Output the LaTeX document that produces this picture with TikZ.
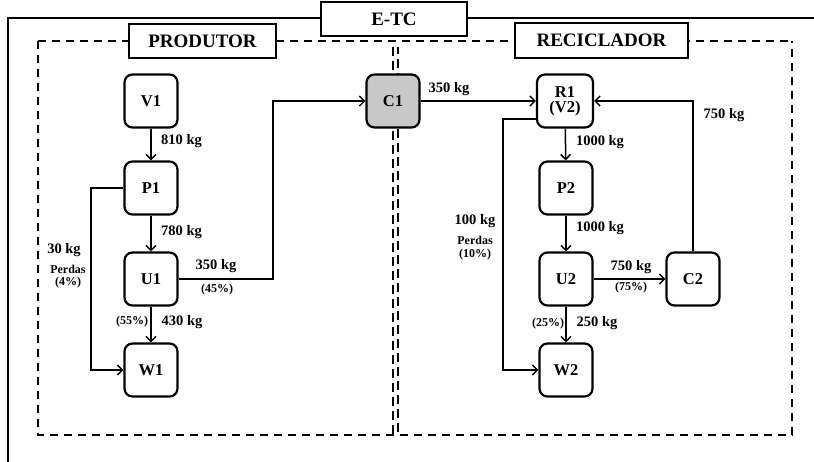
\documentclass[tikz,border=0pt]{standalone}
\usepackage{fontspec}
\setmainfont{Liberation Serif}
\usetikzlibrary{arrows.meta}
\tikzset{
  proc/.style={draw, line width=2.2pt, rounded corners=8pt, minimum width=53pt, minimum height=53pt, inner sep=0pt, font=\fontsize{16.5}{17}\selectfont\bfseries, fill=white},
  hdr/.style={draw, line width=2pt, fill=white, inner sep=0pt, font=\fontsize{19}{20}\selectfont\bfseries},
  flow/.style={line width=1.5pt, -{Straight Barb[length=5pt,width=10pt,line width=1.5pt]}},
  kg/.style={inner sep=0pt, font=\fontsize{14.5}{15}\selectfont\bfseries},
  pct/.style={inner sep=0pt, font=\fontsize{12}{13}\selectfont\bfseries},
  frame/.style={line width=2.4pt, dash pattern=on 8pt off 6pt},
  mid/.style={line width=2pt, dash pattern=on 9pt off 5pt}
}
\begin{document}
\begin{tikzpicture}[x=1pt,y=-1pt]
\useasboundingbox (0,0) rectangle (814,462);
% outer solid frame
\draw[line width=1.8pt] (814,18) -- (8,18) -- (8,462);
% dashed frames
\draw[frame] (38,41) -- (792,41);
\draw[frame] (38,41) -- (38,435) -- (792,435) -- (792,41);
\draw[mid] (393,47) -- (393,435);
\draw[mid, dash phase=2pt] (398,47) -- (398,435);
% header boxes
\node[hdr, minimum width=146pt, minimum height=34pt] (etc) at (394,19) {E-TC};
\node[hdr, minimum width=147pt, minimum height=34pt] (prod) at (202.5,41) {PRODUTOR};
\node[hdr, minimum width=173pt, minimum height=35pt] (rec) at (601.5,40.5) {RECICLADOR};
% process nodes
\node[proc] (V1) at (151,101) {V1};
\node[proc] (P1) at (151,188) {P1};
\node[proc] (U1) at (151,279) {U1};
\node[proc] (W1) at (151,370) {W1};
\node[proc, fill={rgb,255:red,200;green,200;blue,200}] (C1) at (393,101) {C1};
\node[proc, minimum width=56pt, align=center] (R1) at (565,101) {R1\\[-2pt](V2)};
\node[proc] (P2) at (566,188) {P2};
\node[proc] (U2) at (566,279) {U2};
\node[proc] (W2) at (566,370) {W2};
\node[proc] (C2) at (693,279) {C2};
% helper coordinates
\coordinate (k1) at (273,101);
\coordinate (k2) at (91,188);
\coordinate (r1l) at (537,119);
\coordinate (k3) at (503,119);
% connectors producer
\draw[flow] (V1) -- (P1);
\draw[flow] (P1) -- (U1);
\draw[flow] (U1) -- (W1);
\draw[flow] (P1.west) -- (k2) |- (W1.west);
\draw[flow] (U1.east) -| (k1) -- (C1.west);
% connectors recycler
\draw[flow] (C1.east) -- (R1.west);
\draw[flow] (R1) -- (P2);
\draw[flow] (P2) -- (U2);
\draw[flow] (U2) -- (W2);
\draw[flow] (U2) -- (C2);
\draw[flow] (C2.north) |- (R1.east);
\draw[flow] (r1l) -- (k3) |- (W2.west);
% labels
\node[kg, anchor=west] (l810) at (161,141) {810 kg};
\node[kg, anchor=west] (l780) at (161,232) {780 kg};
\node[kg] (l30) at (64,250) {30 kg};
\node[pct] (lp1) at (68,269) {Perdas};
\node[pct] (lp1b) at (68,283) {(4\%)};
\node[kg] (l350a) at (216,266) {350 kg};
\node[pct] (l45) at (217,290) {(45\%)};
\node[pct] (l55) at (132,322) {(55\%)};
\node[kg] (l430) at (182,322) {430 kg};
\node[kg] (l350b) at (449,89) {350 kg};
\node[kg] (l1000a) at (600,142) {1000 kg};
\node[kg] (l750a) at (724,115) {750 kg};
\node[kg] (l1000b) at (600,228) {1000 kg};
\node[kg] (l100) at (475,221) {100 kg};
\node[pct] (lp2) at (475,240) {Perdas};
\node[pct] (lp2b) at (475,255) {(10\%)};
\node[kg] (l750b) at (631,267) {750 kg};
\node[pct] (l75) at (631,288) {(75\%)};
\node[pct] (l25) at (548,324) {(25\%)};
\node[kg] (l250) at (597,323) {250 kg};
\end{tikzpicture}
\end{document}
